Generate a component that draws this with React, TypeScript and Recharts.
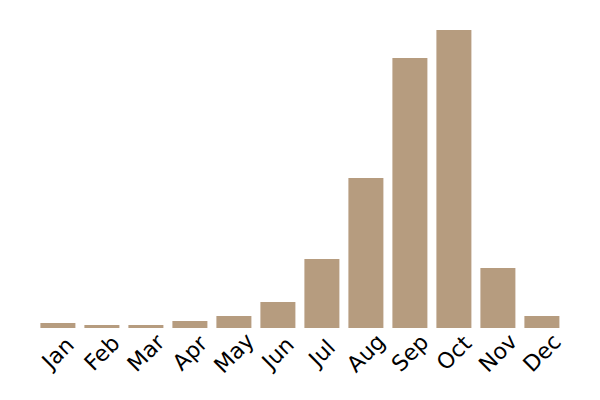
import { BarChart, Bar, XAxis, YAxis } from 'recharts';

const months = ['Jan', 'Feb', 'Mar', 'Apr', 'May', 'Jun', 'Jul', 'Aug', 'Sep', 'Oct', 'Nov', 'Dec'];
const counts = [5, 3, 3, 7, 12, 26, 69, 150, 270, 298, 60, 12];

const data = months.map((m, i) => ({ month: m, count: counts[i] }));

function MonthTick({ x, y, payload }: any) {
  const cy = y + 17;
  return (
    <text
      x={x}
      y={cy}
      transform={`rotate(-45, ${x}, ${cy})`}
      textAnchor="middle"
      dominantBaseline="central"
      fontFamily="DejaVu Sans"
      fontSize={22}
      fill="#000"
    >
      {payload.value}
    </text>
  );
}

export default function App() {
  return (
    <BarChart
      width={600}
      height={400}
      data={data}
      margin={{ top: 22, right: 44, left: 28, bottom: 0 }}
      barCategoryGap="10%"
    >
      <XAxis
        dataKey="month"
        axisLine={false}
        tickLine={false}
        interval={0}
        height={80}
        tick={<MonthTick />}
      />
      <YAxis hide domain={[0, 'dataMax']} />
      <Bar dataKey="count" fill="#b69c7f" isAnimationActive={false} />
    </BarChart>
  );
}
